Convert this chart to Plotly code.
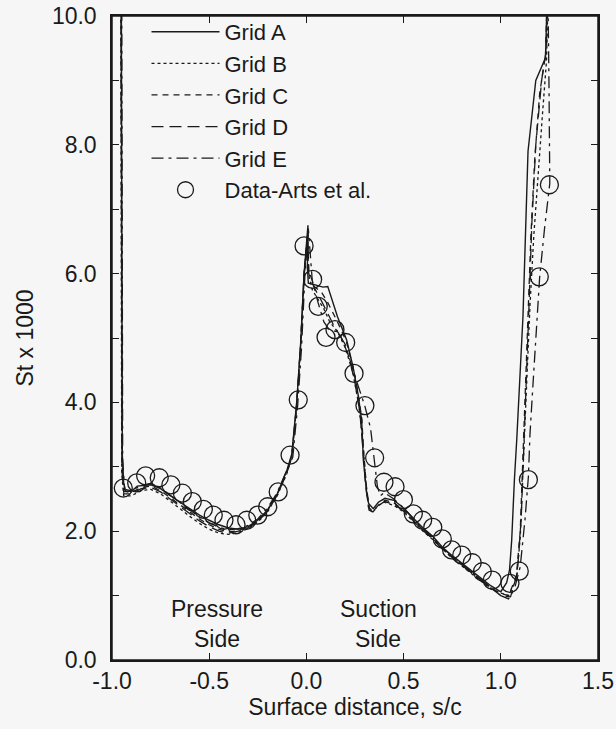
import plotly.graph_objects as go

# ---------------- data ----------------
gridA_x = [-0.952, -0.950, -0.947, -0.940, -0.930, -0.90, -0.87, -0.80, -0.75, -0.70, -0.65, -0.60, -0.55,
           -0.50, -0.45, -0.40, -0.35, -0.30, -0.25, -0.20, -0.15, -0.10, -0.075, -0.05, -0.03, -0.012,
           0.000, 0.008, 0.005, 0.010, 0.050, 0.085, 0.110, 0.160, 0.207, 0.240, 0.265, 0.284, 0.293,
           0.310, 0.320, 0.344, 0.370, 0.404, 0.450, 0.500, 0.550, 0.600, 0.650, 0.700, 0.750, 0.800,
           0.850, 0.900, 0.950, 1.000, 1.030, 1.045, 1.056, 1.070, 1.082, 1.114, 1.125, 1.140, 1.180,
           1.230, 1.240]
gridA_y = [10.5, 6.0, 3.2, 2.75, 2.62, 2.62, 2.70, 2.72, 2.66, 2.55, 2.45, 2.35, 2.25,
           2.17, 2.10, 2.05, 2.03, 2.07, 2.17, 2.33, 2.58, 2.95, 3.20, 4.00, 4.90, 6.00,
           6.50, 6.75, 6.10, 5.85, 5.82, 5.79, 5.80, 5.33, 4.97, 4.55, 4.14, 3.73, 3.10,
           2.60, 2.43, 2.35, 2.45, 2.51, 2.48, 2.36, 2.20, 2.05, 1.92, 1.75, 1.62, 1.50,
           1.38, 1.26, 1.15, 1.06, 1.20, 1.40, 1.86, 2.80, 3.42, 5.33, 6.40, 7.90, 9.00,
           9.35, 10.5]

gridB_x = [-0.955, -0.953, -0.950, -0.940, -0.90, -0.85, -0.80, -0.75, -0.70, -0.65, -0.60, -0.55, -0.50,
           -0.45, -0.40, -0.35, -0.30, -0.25, -0.20, -0.15, -0.10, -0.075, -0.05, -0.03, -0.012, 0.000,
           0.006, 0.010, 0.030, 0.060, 0.090, 0.120, 0.160, 0.200, 0.240, 0.270, 0.290, 0.305, 0.320,
           0.340, 0.370, 0.400, 0.450, 0.500, 0.550, 0.600, 0.650, 0.700, 0.750, 0.800, 0.850, 0.900,
           0.950, 1.000, 1.040, 1.080, 1.100, 1.115, 1.130, 1.150, 1.170, 1.190, 1.215, 1.235, 1.245]
gridB_y = [10.5, 5.0, 2.90, 2.55, 2.55, 2.63, 2.65, 2.58, 2.47, 2.35, 2.23, 2.12, 2.03,
           1.97, 1.95, 1.98, 2.04, 2.14, 2.30, 2.55, 2.90, 3.15, 3.95, 4.85, 5.95, 6.40,
           6.60, 6.00, 5.75, 5.60, 5.45, 5.25, 5.10, 4.85, 4.45, 3.95, 3.40, 2.80, 2.35,
           2.30, 2.40, 2.45, 2.40, 2.30, 2.15, 2.00, 1.87, 1.72, 1.58, 1.46, 1.34, 1.22,
           1.10, 1.04, 1.00, 1.25, 1.90, 3.00, 4.20, 5.50, 6.60, 7.50, 8.50, 9.30, 10.5]

gridC_x = [-0.953, -0.951, -0.948, -0.938, -0.90, -0.85, -0.80, -0.75, -0.70, -0.65, -0.60, -0.55, -0.50,
           -0.45, -0.40, -0.35, -0.30, -0.25, -0.20, -0.15, -0.10, -0.075, -0.05, -0.03, -0.012, 0.000,
           0.007, 0.012, 0.040, 0.080, 0.110, 0.160, 0.205, 0.240, 0.265, 0.285, 0.295, 0.310, 0.325,
           0.345, 0.375, 0.405, 0.450, 0.500, 0.550, 0.600, 0.650, 0.700, 0.750, 0.800, 0.850, 0.900,
           0.950, 1.000, 1.040, 1.080, 1.100, 1.112, 1.125, 1.140, 1.155, 1.175, 1.200, 1.230, 1.240]
gridC_y = [10.5, 5.5, 3.00, 2.62, 2.60, 2.68, 2.70, 2.63, 2.52, 2.41, 2.30, 2.19, 2.10,
           2.03, 1.99, 2.01, 2.06, 2.16, 2.32, 2.57, 2.92, 3.18, 3.98, 4.90, 6.00, 6.45,
           6.65, 6.05, 5.80, 5.70, 5.55, 5.25, 4.95, 4.55, 4.15, 3.75, 3.20, 2.65, 2.35,
           2.32, 2.42, 2.48, 2.44, 2.33, 2.17, 2.02, 1.89, 1.73, 1.60, 1.48, 1.36, 1.24,
           1.12, 1.03, 1.00, 1.30, 2.00, 3.00, 4.00, 5.30, 6.60, 7.80, 8.80, 9.40, 10.5]

gridD_x = [-0.954, -0.952, -0.949, -0.939, -0.90, -0.85, -0.80, -0.75, -0.70, -0.65, -0.60, -0.55, -0.50,
           -0.45, -0.40, -0.35, -0.30, -0.25, -0.20, -0.15, -0.10, -0.075, -0.05, -0.03, -0.012, 0.000,
           0.007, 0.012, 0.040, 0.070, 0.100, 0.140, 0.180, 0.220, 0.250, 0.275, 0.290, 0.305, 0.322,
           0.342, 0.372, 0.402, 0.450, 0.500, 0.550, 0.600, 0.650, 0.700, 0.750, 0.800, 0.850, 0.900,
           0.950, 1.000, 1.050, 1.085, 1.105, 1.118, 1.130, 1.145, 1.160, 1.180, 1.210, 1.235, 1.240]
gridD_y = [10.5, 5.2, 2.95, 2.58, 2.58, 2.66, 2.68, 2.61, 2.50, 2.39, 2.27, 2.16, 2.07,
           2.00, 1.97, 2.00, 2.05, 2.15, 2.31, 2.56, 2.91, 3.16, 3.96, 4.88, 5.97, 6.42,
           6.62, 6.00, 5.78, 5.62, 5.45, 5.20, 5.00, 4.70, 4.30, 3.85, 3.30, 2.70, 2.33,
           2.30, 2.40, 2.46, 2.42, 2.31, 2.16, 2.01, 1.88, 1.72, 1.59, 1.47, 1.35, 1.23,
           1.11, 1.00, 0.98, 1.35, 2.20, 3.20, 4.30, 5.50, 6.80, 8.00, 9.00, 9.50, 10.5]

gridE_x = [-0.950, -0.948, -0.945, -0.935, -0.90, -0.85, -0.80, -0.75, -0.70, -0.65, -0.60, -0.55, -0.50,
           -0.45, -0.40, -0.35, -0.30, -0.25, -0.20, -0.15, -0.10, -0.070, -0.045, -0.025, -0.008, 0.004,
           0.010, 0.030, 0.060, 0.090, 0.120, 0.160, 0.200, 0.245, 0.300, 0.330, 0.350, 0.365, 0.380,
           0.400, 0.450, 0.500, 0.550, 0.600, 0.650, 0.700, 0.750, 0.800, 0.850, 0.900, 0.950, 1.000,
           1.040, 1.070, 1.100, 1.125, 1.142, 1.150, 1.166, 1.185, 1.200, 1.225, 1.252, 1.248, 1.242]
gridE_y = [10.5, 5.8, 3.10, 2.65, 2.63, 2.71, 2.74, 2.67, 2.56, 2.44, 2.33, 2.22, 2.13,
           2.06, 2.02, 2.04, 2.09, 2.19, 2.36, 2.60, 2.95, 3.15, 3.95, 4.85, 5.95, 6.45,
           6.70, 5.90, 5.55, 5.25, 5.12, 5.10, 4.90, 4.45, 3.95, 3.60, 3.10, 2.70, 2.55,
           2.60, 2.50, 2.36, 2.19, 2.04, 1.91, 1.74, 1.61, 1.49, 1.37, 1.25, 1.13, 1.00,
           0.95, 1.10, 1.45, 2.20, 2.85, 3.50, 4.30, 5.30, 5.95, 6.70, 7.40, 8.90, 10.5]

data_x = [-0.942, -0.873, -0.827, -0.757, -0.697, -0.638, -0.587, -0.530, -0.479, -0.424, -0.362,
          -0.307, -0.250, -0.199, -0.145, -0.084, -0.042, -0.012, 0.032, 0.061, 0.101, 0.147, 0.202,
          0.245, 0.301, 0.351, 0.399, 0.456, 0.499, 0.550, 0.598, 0.650, 0.699, 0.747, 0.799, 0.853,
          0.905, 0.956, 1.047, 1.095, 1.142, 1.198, 1.250]
data_y = [2.67, 2.75, 2.86, 2.83, 2.72, 2.59, 2.46, 2.34, 2.25, 2.17, 2.10,
          2.17, 2.25, 2.38, 2.61, 3.18, 4.04, 6.43, 5.91, 5.49, 5.01, 5.13, 4.93,
          4.45, 3.95, 3.14, 2.76, 2.69, 2.49, 2.27, 2.17, 2.06, 1.88, 1.71, 1.63, 1.51,
          1.37, 1.24, 1.19, 1.38, 2.80, 5.95, 7.38]

x_ticks = [-1.0, -0.5, 0.0, 0.5, 1.0, 1.5]
y_ticks = [0.0, 2.0, 4.0, 6.0, 8.0, 10.0]

# ---------------- figure ----------------
INK = "#1a1a1a"
BG = "#f6f6f6"
FONT = "Liberation Sans, Arial, Helvetica, sans-serif"
FS = 23

grids = [
    ("Grid A", gridA_x, gridA_y, "solid", 1.4),
    ("Grid B", gridB_x, gridB_y, "dot", 1.3),
    ("Grid C", gridC_x, gridC_y, "6px,5px", 1.3),
    ("Grid D", gridD_x, gridD_y, "12px,6px", 1.3),
    ("Grid E", gridE_x, gridE_y, "12px,5px,3px,5px", 1.3),
]

fig = go.Figure()
for name, xs, ys, dash, w in grids:
    fig.add_trace(go.Scatter(x=xs, y=ys, mode="lines", name=name,
                             line=dict(color=INK, width=w, dash=dash)))

fig.add_trace(go.Scatter(x=data_x, y=data_y, mode="markers", name="Data-Arts et al.",
                         marker=dict(symbol="circle-open", size=18, color=INK,
                                     line=dict(width=1.3, color=INK))))

for tx, ty, tt in [(-0.46, 0.79, "Pressure"), (-0.46, 0.32, "Side"),
                   (0.37, 0.79, "Suction"), (0.37, 0.32, "Side")]:
    fig.add_annotation(x=tx, y=ty, text=tt, showarrow=False,
                       font=dict(size=FS, color=INK, family=FONT))

# plot frame
fig.add_shape(type="rect", xref="paper", yref="paper", x0=0, x1=1, y0=0, y1=1,
              line=dict(color=INK, width=1.5), fillcolor="rgba(0,0,0,0)", layer="above")

axis_common = dict(showline=True, linecolor=INK, linewidth=1.5, mirror="ticks",
                   ticks="inside", ticklen=7, tickwidth=1.3, tickcolor=INK,
                   showgrid=False, zeroline=False,
                   tickfont=dict(size=FS, color=INK, family=FONT))

fig.update_layout(
    width=616, height=729,
    margin=dict(l=112, r=18, t=16, b=69, autoexpand=False),
    paper_bgcolor=BG, plot_bgcolor=BG,
    font=dict(family=FONT, color=INK, size=FS),
    xaxis=dict(range=[-1.0, 1.5], tickvals=x_ticks,
               ticktext=[f"{v:.1f}" for v in x_ticks],
               title=dict(text="Surface distance, s/c", font=dict(size=FS, color=INK, family=FONT), standoff=2),
               **axis_common),
    yaxis=dict(range=[0, 10], tickvals=y_ticks,
               ticktext=[f"{v:.1f}" for v in y_ticks],
               ticklabelstandoff=9,
               minor=dict(dtick=1, ticks="inside", ticklen=7, tickcolor=INK, tickwidth=1.3),
               title=dict(text="St x 1000", font=dict(size=23, color=INK, family=FONT), standoff=12),
               **axis_common),
    showlegend=True,
    legend=dict(x=0.071, y=0.985, xanchor="left", yanchor="top", yref="container",
                bgcolor="rgba(0,0,0,0)", borderwidth=0,
                font=dict(size=22, color=INK, family=FONT),
                itemwidth=68, tracegroupgap=0),
)

fig.write_html("out.html", config={"displayModeBar": False},
               post_script="document.body.style.margin='0';document.body.style.background='%s';" % BG)
